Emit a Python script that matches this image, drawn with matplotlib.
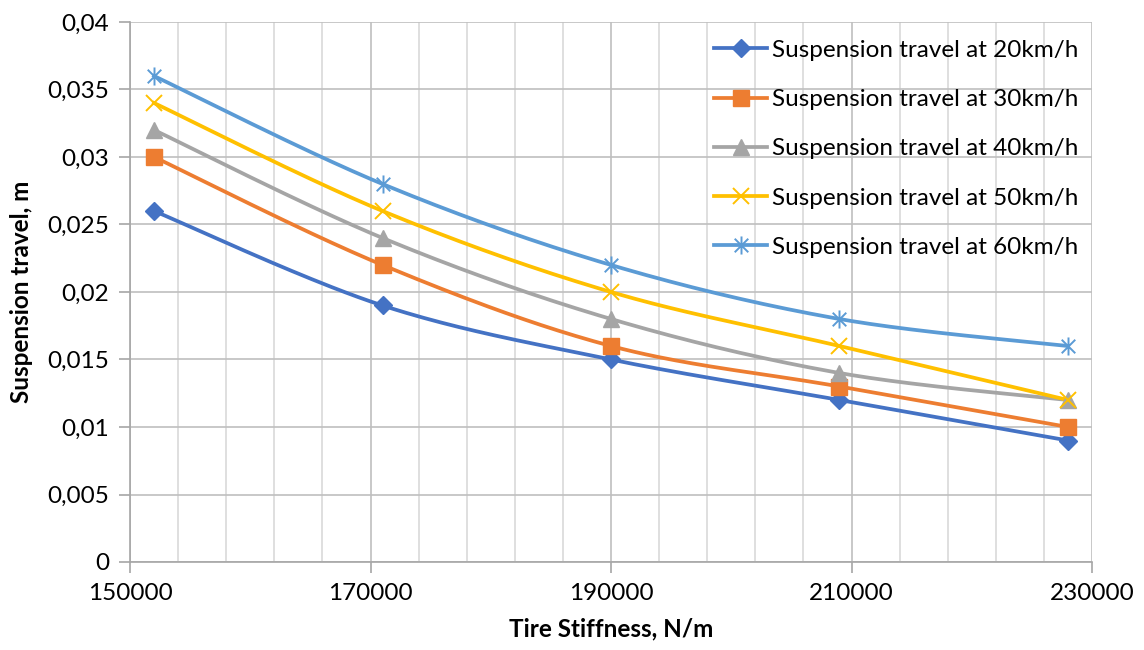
import numpy as np
import matplotlib
matplotlib.use("Agg")
import matplotlib.pyplot as plt
from matplotlib.path import Path
from matplotlib.ticker import FuncFormatter

plt.rcParams['font.family'] = ['Lato', 'DejaVu Sans']

# tire stiffness (N/m) and suspension travel (m) per vehicle speed
stiffness = [152000, 171000, 190000, 209000, 228000]
travel_20 = [0.026, 0.019, 0.015, 0.012, 0.009]
travel_30 = [0.030, 0.022, 0.016, 0.013, 0.010]
travel_40 = [0.032, 0.024, 0.018, 0.014, 0.012]
travel_50 = [0.034, 0.026, 0.020, 0.016, 0.012]
travel_60 = [0.036, 0.028, 0.022, 0.018, 0.016]
labels = ["Suspension travel at 20km/h", "Suspension travel at 30km/h",
          "Suspension travel at 40km/h", "Suspension travel at 50km/h",
          "Suspension travel at 60km/h"]

# asterisk: vertical bar plus an x
star = Path([(0, -1), (0, 1), (-0.75, -0.75), (0.75, 0.75), (-0.75, 0.75), (0.75, -0.75)],
            [Path.MOVETO, Path.LINETO, Path.MOVETO, Path.LINETO, Path.MOVETO, Path.LINETO])

styles = [
    dict(color='#4472C4', marker='D', ms=9),
    dict(color='#ED7D31', marker='s', ms=12),
    dict(color='#A5A5A5', marker='^', ms=12),
    dict(color='#FFC000', marker='x', ms=12, mew=1.4),
    dict(color='#5B9BD5', marker=star, ms=13, mew=1.4),
]


def smooth(x, y, n=40):
    # Catmull-Rom style bezier smoothing like spreadsheet "smoothed line"
    x = np.asarray(x, float)
    y = np.asarray(y, float)
    px = np.concatenate([[x[0]], x, [x[-1]]])
    py = np.concatenate([[y[0]], y, [y[-1]]])
    xs, ys = [], []
    t = np.linspace(0, 1, n)
    for i in range(1, len(px) - 2):
        p0 = np.array([px[i], py[i]])
        p3 = np.array([px[i + 1], py[i + 1]])
        p1 = p0 + (np.array([px[i + 1], py[i + 1]]) - np.array([px[i - 1], py[i - 1]])) / 6
        p2 = p3 - (np.array([px[i + 2], py[i + 2]]) - np.array([px[i], py[i]])) / 6
        b = ((1 - t) ** 3)[:, None] * p0 + (3 * (1 - t) ** 2 * t)[:, None] * p1 \
            + (3 * (1 - t) * t ** 2)[:, None] * p2 + (t ** 3)[:, None] * p3
        xs.extend(b[:, 0])
        ys.extend(b[:, 1])
    return xs, ys


fig = plt.figure(figsize=(11.44, 6.5), dpi=100)
ax = fig.add_axes([130 / 1144, 1 - 562 / 650, (1092 - 130) / 1144, (562 - 22) / 650])

series = [travel_20, travel_30, travel_40, travel_50, travel_60]
for vals, st, lab in zip(series, styles, labels):
    sx, sy = smooth(stiffness, vals)
    ax.plot(sx, sy, color=st['color'], lw=2.7, zorder=3)
    ax.plot(stiffness, vals, ls='none', marker=st['marker'], ms=st['ms'],
            mew=st.get('mew', 1), color=st['color'], zorder=4)
    ax.plot([], [], color=st['color'], lw=2.7, marker=st['marker'], ms=st['ms'],
            mew=st.get('mew', 1), label=lab)

ax.set_xlim(150000, 230000)
ax.set_ylim(0, 0.04)
ax.set_xticks(np.arange(150000, 230001, 20000))
ax.set_xticks(np.arange(150000, 230001, 4000), minor=True)
ax.set_yticks(np.arange(0, 0.04001, 0.005))
ax.xaxis.set_major_formatter(FuncFormatter(lambda v, p: '%d' % v))
ax.yaxis.set_major_formatter(FuncFormatter(lambda v, p: ('%g' % round(v, 4)).replace('.', ',')))

ax.grid(which='major', color='#BFBFBF', lw=1.2)
ax.grid(which='minor', axis='x', color='#D9D9D9', lw=1.2)
ax.set_axisbelow(True)
for s in ['top', 'right']:
    ax.spines[s].set_visible(False)
for s in ['left', 'bottom']:
    ax.spines[s].set_color('#A6A6A6')
    ax.spines[s].set_linewidth(1.2)
ax.tick_params(which='major', length=8, width=1.2, color='#A6A6A6', labelsize=17.5, pad=7)
ax.tick_params(which='minor', length=0)

ax.set_xlabel('Tire Stiffness, N/m', fontsize=17.5, fontweight='bold', labelpad=10)
ax.set_ylabel('Suspension travel, m', fontsize=17.5, fontweight='bold', labelpad=10)

ax.legend(loc='upper left', bbox_to_anchor=(692 / 1144, 1 - 18 / 650),
          bbox_transform=fig.transFigure, frameon=False, fontsize=17.5,
          handlelength=2.2, labelspacing=1.16, handletextpad=0.2)

fig.savefig('out.png', dpi=100)
